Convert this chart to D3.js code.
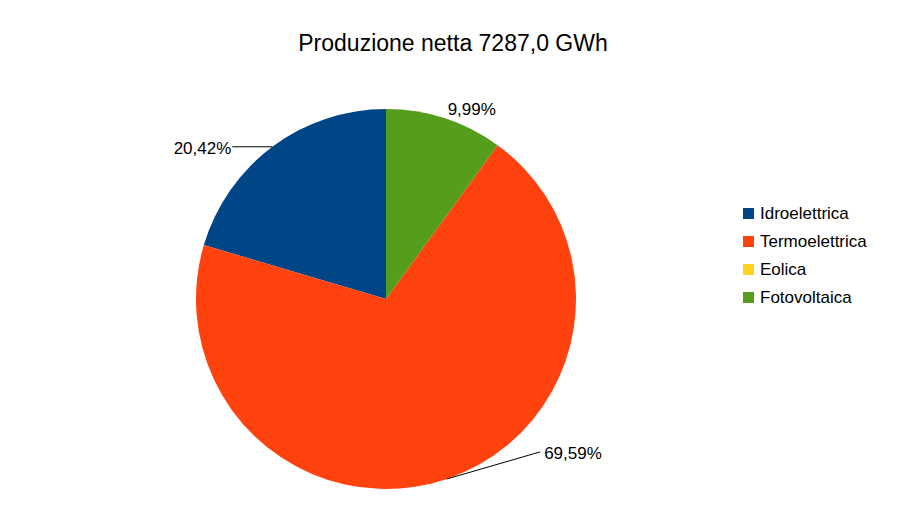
<!DOCTYPE html>
<html>
<head>
<meta charset="utf-8">
<script src="https://cdn.jsdelivr.net/npm/d3@7"></script>
<style>
  body { margin: 0; background: #fff; }
  text { font-family: "Liberation Sans", Arial, sans-serif; fill: #000; }
</style>
</head>
<body>
<div class="chart"></div>
<script>
//Data
var categories = ['Idroelettrica', 'Termoelettrica', 'Eolica', 'Fotovoltaica'];
var values = [1488.0, 5071.0, 0, 728.0]; // GWh
var colors = ['#004586', '#ff420e', '#ffd320', '#579d1c'];
var title = 'Produzione netta 7287,0 GWh';

var W = 907, H = 510, cx = 386, cy = 299, R = 190;

var svg = d3.select('.chart').append('svg')
  .attr('width', W).attr('height', H);

svg.append('text')
  .attr('x', 453).attr('y', 51)
  .attr('text-anchor', 'middle')
  .attr('font-size', 23)
  .text(title);

var total = d3.sum(values);
var pie = d3.pie().sort(null).startAngle(0).endAngle(-2 * Math.PI);
var arcs = pie(values);
var arc = d3.arc().innerRadius(0).outerRadius(R);

var g = svg.append('g').attr('transform', 'translate(' + cx + ',' + cy + ')');

g.selectAll('path')
  .data(arcs)
  .enter()
  .append('path')
  .attr('d', arc)
  .attr('fill', function(d, i) { return colors[i]; });

//labels: leader offsets from the arc edge
var leader = { 0: [-40, 0], 1: [93, -27] };
var fmt = function(v) { return (v / total * 100).toFixed(2).replace('.', ',') + '%'; };

arcs.forEach(function(d, i) {
  if (!d.value) return;
  var a = (d.startAngle + d.endAngle) / 2;
  var px = R * Math.sin(a), py = -R * Math.cos(a);
  var off = leader[i];
  if (off) {
    g.append('line')
      .attr('x1', px).attr('y1', py)
      .attr('x2', px + off[0]).attr('y2', py + off[1])
      .attr('stroke', '#000').attr('stroke-width', 1);
    g.append('text')
      .attr('x', px + off[0] + (off[0] < 0 ? -1 : 4))
      .attr('y', py + off[1] + 7)
      .attr('text-anchor', off[0] < 0 ? 'end' : 'start')
      .attr('font-size', 17)
      .text(fmt(d.value));
  } else {
    g.append('text')
      .attr('x', px + 3).attr('y', py - 75 + 80)
      .attr('dy', -8)
      .attr('text-anchor', 'start')
      .attr('font-size', 17)
      .text(fmt(d.value));
  }
});

//Legend
var legend = svg.selectAll('.leg')
  .data(categories)
  .enter()
  .append('g')
  .attr('transform', function(d, i) { return 'translate(743,' + (208 + i * 28) + ')'; });
legend.append('rect')
  .attr('width', 11).attr('height', 11)
  .attr('fill', function(d, i) { return colors[i]; });
legend.append('text')
  .attr('x', 17).attr('y', 11)
  .attr('font-size', 17)
  .text(function(d) { return d; });
</script>
</body>
</html>
